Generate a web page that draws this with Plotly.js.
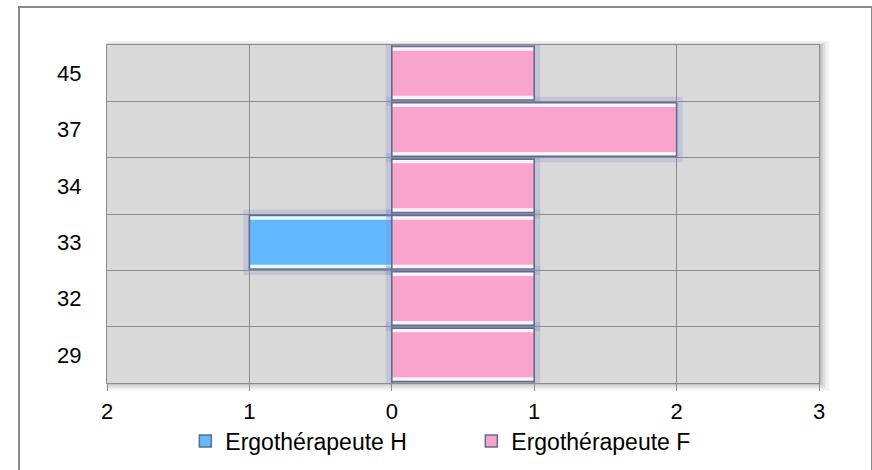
<!DOCTYPE html>
<html>
<head>
<meta charset="utf-8">
<script src="https://cdn.plot.ly/plotly-3.0.1.min.js"></script>
<style>
  html, body { margin: 0; padding: 0; background: #fff; overflow: hidden; }
  #wrap { position: relative; width: 872px; height: 470px; }
  #chart { position: absolute; left: 0; top: 0; width: 872px; height: 470px; }
  #frame { position: absolute; left: 18px; top: 6px; width: 851px; height: 470px;
           border: 2px solid #8a8a8a; pointer-events: none; box-sizing: content-box; }
</style>
</head>
<body>
<div id="wrap">
  <div id="chart"></div>
  <div id="frame"></div>
</div>
<script>
// Data
const ages = ['29', '32', '33', '34', '37', '45'];
const ergoH = [0, 0, 1, 0, 0, 0];
const ergoF = [1, 1, 1, 1, 2, 1];
const xTickVals = [-2, -1, 0, 1, 2, 3];
const xTickText = ['2', '1', '0', '1', '2', '3'];
const seriesNames = ['Ergothérapeute H', 'Ergothérapeute F'];

const hVals = ergoH.map(v => v ? -v : null);
const fVals = ergoF.map(v => v ? v : null);

const fontFam = 'Liberation Sans, Arial, sans-serif';
const blue = '#64b8fe';
const blueHi = '#e6fbff';
const pink = '#f9a4cc';
const pinkHi = '#fff2fb';
const edge = '#5f6d8c';
const halo = 'rgba(120,135,200,0.24)';

const fullW = 0.95, coreW = 0.8;
function layers(vals, core, hi, name) {
  return [
    { type: 'bar', orientation: 'h', y: ages, x: vals, width: fullW,
      marker: { color: 'rgba(0,0,0,0)', line: { color: halo, width: 12 } },
      showlegend: false, hoverinfo: 'skip' },
    { type: 'bar', orientation: 'h', y: ages, x: vals, width: fullW,
      marker: { color: hi, line: { width: 0 } }, showlegend: false, hoverinfo: 'skip' },
    { type: 'bar', orientation: 'h', y: ages, x: vals, width: coreW,
      marker: { color: core, line: { width: 0 } }, showlegend: false, hoverinfo: 'skip' },
    { type: 'bar', orientation: 'h', y: ages, x: vals, width: fullW, name: name,
      marker: { color: 'rgba(0,0,0,0)', line: { color: edge, width: 1.6 } },
      showlegend: false, hoverinfo: 'skip' },
    // legend entry only
    { type: 'bar', orientation: 'h', y: [null], x: [null], name: name,
      marker: { color: core, line: { color: edge, width: 1.5 } }, showlegend: true }
  ];
}

const traces = [].concat(
  layers(hVals, blue, blueHi, seriesNames[0]),
  layers(fVals, pink, pinkHi, seriesNames[1])
);

const layout = {
  width: 872, height: 470,
  margin: { l: 107, r: 53, t: 45, b: 87, autoexpand: false },
  paper_bgcolor: '#ffffff',
  plot_bgcolor: 'rgba(0,0,0,0)',
  barmode: 'overlay',
  font: { family: fontFam, size: 22, color: '#000' },
  showlegend: true,
  legend: {
    orientation: 'h', x: 0.110, xanchor: 'left', y: -0.172, yanchor: 'middle',
    font: { family: fontFam, size: 23, color: '#000' },
    itemwidth: 30, entrywidth: 241, entrywidthmode: 'pixels',
    traceorder: 'normal', bgcolor: 'rgba(0,0,0,0)'
  },
  xaxis: {
    range: [-2, 3], tickvals: xTickVals, ticktext: xTickText,
    showgrid: true, gridcolor: '#8c8c8c', gridwidth: 1,
    zeroline: true, zerolinecolor: '#7a7a7a', zerolinewidth: 1.5,
    showline: true, linecolor: '#8c8c8c', linewidth: 1, mirror: true,
    ticks: 'outside', ticklen: 7, tickcolor: '#8c8c8c',
    ticklabelstandoff: 2,
    tickfont: { family: fontFam, size: 22, color: '#000' },
    fixedrange: true, automargin: false
  },
  yaxis: {
    type: 'category', categoryorder: 'array', categoryarray: ages,
    tickson: 'boundaries', showgrid: true, gridcolor: '#8c8c8c', gridwidth: 1,
    showline: true, linecolor: '#8c8c8c', linewidth: 1, mirror: true,
    ticks: '', ticklabelstandoff: 20,
    tickfont: { family: fontFam, size: 22, color: '#000' },
    fixedrange: true, automargin: false
  },
  shapes: [
    // soft drop shadow behind plot area
    { type: 'rect', xref: 'paper', yref: 'paper', x0: -0.002, x1: 1.014, y0: -0.022, y1: 1.012,
      layer: 'below', line: { width: 0 }, fillcolor: 'rgba(0,0,0,0.05)' },
    { type: 'rect', xref: 'paper', yref: 'paper', x0: 0.0, x1: 1.009, y0: -0.014, y1: 1.007,
      layer: 'below', line: { width: 0 }, fillcolor: 'rgba(0,0,0,0.08)' },
    { type: 'rect', xref: 'paper', yref: 'paper', x0: 0.001, x1: 1.005, y0: -0.007, y1: 1.003,
      layer: 'below', line: { width: 0 }, fillcolor: 'rgba(0,0,0,0.12)' },
    // plot background
    { type: 'rect', xref: 'paper', yref: 'paper', x0: 0, x1: 1, y0: 0, y1: 1,
      layer: 'below', line: { width: 0 }, fillcolor: '#d9d9d9' }
  ]
};

Plotly.newPlot('chart', traces, layout, { displayModeBar: false, staticPlot: true });
</script>
</body>
</html>
